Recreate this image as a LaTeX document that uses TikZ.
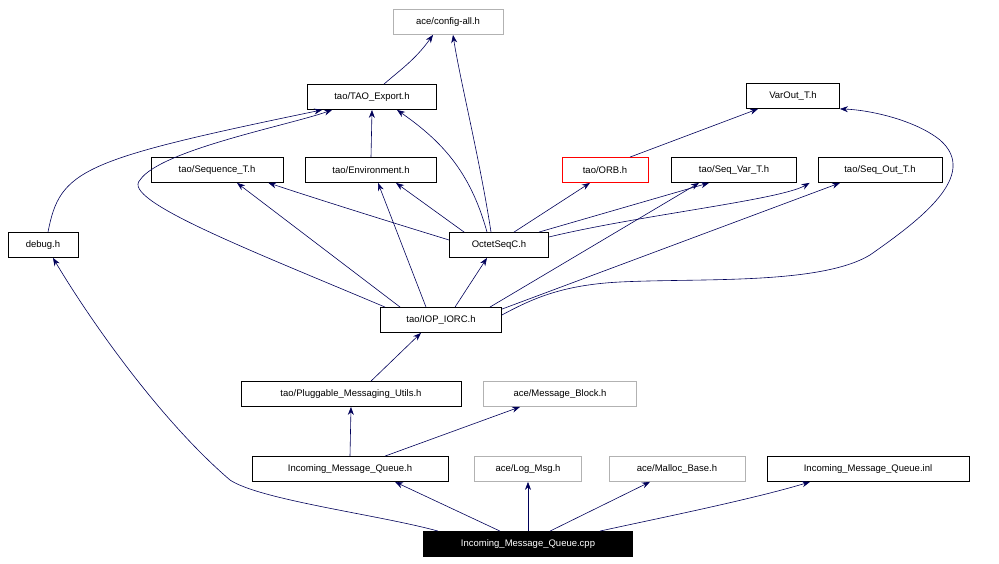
\documentclass[tikz,border=0pt]{standalone}
\usepackage{fontspec}
\setmainfont{Liberation Sans}
\usetikzlibrary{arrows.meta,calc}
\begin{document}
\begin{tikzpicture}[x=1pt,y=-1pt,
 box/.style={draw=black,fill=white,inner sep=0pt,minimum height=25pt,font=\fontsize{9.5}{11}\selectfont,line width=0.8pt},
 gbox/.style={box,draw=gray!60},
 e/.style={draw=blue!35!black,line width=0.6pt,-{Stealth[length=8pt,width=6pt]}}]
\useasboundingbox (0,0) rectangle (999,564);
\node[gbox,minimum width=110pt] (cfg) at (448,22) {ace/config-all.h};
\node[box,minimum width=129pt] (tex) at (372,97) {tao/TAO\_Export.h};
\node[box,minimum width=93pt] (vo) at (793,96) {VarOut\_T.h};
\node[box,minimum width=132pt] (seq) at (217,170) {tao/Sequence\_T.h};
\node[box,minimum width=131pt] (env) at (371,170) {tao/Environment.h};
\node[box,draw=red,minimum width=86pt] (orb) at (605,170) {tao/ORB.h};
\node[box,minimum width=125pt] (sv) at (734,170) {tao/Seq\_Var\_T.h};
\node[box,minimum width=124pt] (so) at (880,170) {tao/Seq\_Out\_T.h};
\node[box,minimum width=70pt] (dbg) at (43,245) {debug.h};
\node[box,minimum width=99pt] (oct) at (499,245) {OctetSeqC.h};
\node[box,minimum width=121pt] (iop) at (441,320) {tao/IOP\_IORC.h};
\node[box,minimum width=220pt] (pmu) at (351,394) {tao/Pluggable\_Messaging\_Utils.h};
\node[gbox,minimum width=153pt] (mb) at (560,394) {ace/Message\_Block.h};
\node[box,minimum width=196pt] (imq) at (350,469) {Incoming\_Message\_Queue.h};
\node[gbox,minimum width=107pt] (log) at (528,469) {ace/Log\_Msg.h};
\node[gbox,minimum width=136pt] (mal) at (677,469) {ace/Malloc\_Base.h};
\node[box,minimum width=202pt] (inl) at (868,469) {Incoming\_Message\_Queue.inl};
\node[box,fill=black,text=white,minimum width=209pt] (cpp) at (528,544) {Incoming\_Message\_Queue.cpp};

\draw[e] ($(tex.north)+(12,0)$) .. controls (400,70) and (415,60) .. ($(cfg.south)+(-15,0)$);
\draw[e] ($(oct.north)+(-8,0)$) .. controls (480,160) and (460,80) .. ($(cfg.south)+(5,0)$);
\draw[e] (env.north) -- (tex.south);
\draw[e] ($(dbg.north)+(5,0)$) .. controls (60,170) and (80,160) .. ($(tex.south west)+(15,0)$);
\draw[e] ($(iop.north west)+(5,0)$) .. controls (250,250) and (120,200) .. (140,180) .. controls (160,150) and (290,125) .. ($(tex.south west)+(25,0)$);
\draw[e] ($(oct.north)+(-12,0)$) .. controls (470,170) and (440,140) .. ($(tex.south)+(25,0)$);
\draw[e] ($(oct.west)+(0,-5)$) .. controls (400,225) and (320,200) .. ($(seq.south east)+(-15,0)$);
\draw[e] ($(oct.north west)+(15,0)$) -- ($(env.south)+(25,0)$);
\draw[e] ($(oct.north)+(15,0)$) -- ($(orb.south)+(-15,0)$);
\draw[e] ($(oct.north east)+(-10,0)$) -- ($(sv.south)+(-25,0)$);
\draw[e] ($(oct.east)+(0,-8)$) .. controls (640,215) and (780,200) .. ($(so.south west)+(-8,0)$);
\draw[e] ($(orb.north)+(25,0)$) -- ($(vo.south)+(-35,0)$);
\draw[e] ($(iop.north west)+(20,0)$) -- ($(seq.south)+(20,0)$);
\draw[e] ($(iop.north)+(-15,0)$) -- ($(env.south)+(7,0)$);
\draw[e] ($(iop.north)+(14,0)$) -- ($(oct.south)+(-12,0)$);
\draw[e] ($(iop.north east)+(-12,0)$) -- ($(sv.south)+(-35,0)$);
\draw[e] ($(iop.north east)+(0,2)$) -- ($(so.south)+(-40,0)$);
\draw[e] ($(iop.east)+(0,-5)$) .. controls (530,300) and (560,285) .. (620,282) .. controls (700,278) and (820,285) .. (870,255) .. controls (920,220) and (980,175) .. (940,140) .. controls (915,120) and (870,110) .. ($(vo.south east)+(0,0)$);
\draw[e] ($(pmu.north)+(20,0)$) -- ($(iop.south)+(-20,0)$);
\draw[e] (imq.north) -- (pmu.north |- pmu.south);
\draw[e] ($(imq.north)+(35,0)$) -- ($(mb.south)+(-40,0)$);
\draw[e] ($(cpp.north west)+(15,0)$) .. controls (380,515) and (260,500) .. (230,480) .. controls (160,420) and (90,320) .. ($(dbg.south)+(10,0)$);
\draw[e] ($(cpp.north)+(-28,0)$) -- ($(imq.south)+(45,0)$);
\draw[e] (cpp.north) -- (log.south);
\draw[e] ($(cpp.north)+(22,0)$) -- ($(mal.south)+(-27,0)$);
\draw[e] ($(cpp.north east)+(-33,0)$) .. controls (650,520) and (750,500) .. ($(inl.south)+(-58,0)$);
\end{tikzpicture}
\end{document}
